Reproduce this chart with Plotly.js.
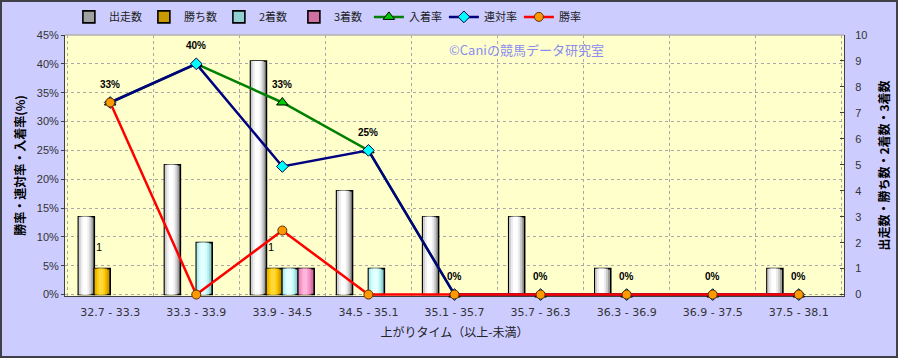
<!DOCTYPE html>
<html><head><meta charset="utf-8">
<script src="https://cdn.plot.ly/plotly-3.0.1.min.js"></script>
<style>
html,body{margin:0;padding:0;background:#CCCCFF;}
#chart{width:898px;height:358px;box-sizing:border-box;border:2px solid #404048;}
</style>
</head><body><div id="chart"></div>
<script>
const categories = ['32.7 - 33.3','33.3 - 33.9','33.9 - 34.5','34.5 - 35.1','35.1 - 35.7','35.7 - 36.3','36.3 - 36.9','36.9 - 37.5','37.5 - 38.1'];
const runners = [3,5,9,4,3,3,1,0,1];
const wins = [1,0,1,0,0,0,0,0,0];
const seconds = [0,2,1,1,0,0,0,0,0];
const thirds = [0,0,1,0,0,0,0,0,0];
const placeRate = [33.3,40,33.3,25,0,0,0,0,0];
const quinellaRate = [33.3,40,22.2,25,0,0,0,0,0];
const winRate = [33.3,0,11.1,0,0,0,0,0,0];
const rateTicks = [0,5,10,15,20,25,30,35,40,45];
const rateTickLabels = ['0%','5%','10%','15%','20%','25%','30%','35%','40%','45%'];
const countTicks = [0,1,2,3,4,5,6,7,8,9,10];

const FONT = 'Liberation Sans, Arial, Noto Sans CJK JP, sans-serif';
const JFONT = 'Noto Sans CJK JP, Liberation Sans, sans-serif';
const BW = 0.185;
const PAD = 0.25; // small space below zero so the zero-valued lines are not clipped

function cylinder(name, vals, base, strips, slot){
  const left = -2*BW + slot*BW;
  const shown = vals.map(v => v === 0 ? null : v);
  const out = [{
    type:'bar', name:name, x:categories, y:shown, yaxis:'y', base:0,
    offset:left, width:BW,
    marker:{color:base, line:{color:'#000000', width:1.6}},
    hoverinfo:'skip', legendgroup:name
  }];
  strips.forEach(s => {
    const w = BW*s.w;
    const c = left + BW*0.42;
    out.push({
      type:'bar', name:name, x:categories, y:shown, yaxis:'y', base:0,
      offset:c - w/2, width:w,
      marker:{color:s.c, line:{width:0}},
      showlegend:false, hoverinfo:'skip', legendgroup:name
    });
  });
  return out;
}

const traces = [].concat(
  cylinder('出走数', runners, '#A0A0A0', [{w:0.8,c:'#D0D0D0'},{w:0.55,c:'#EEEEEE'},{w:0.3,c:'#FFFFFF'}], 0),
  cylinder('勝ち数', wins, '#C89A00', [{w:0.8,c:'#E8B400'},{w:0.55,c:'#FFCC00'},{w:0.3,c:'#FFD840'}], 1),
  cylinder('2着数', seconds, '#90D0D0', [{w:0.8,c:'#B4ECEC'},{w:0.55,c:'#CCFFFF'},{w:0.3,c:'#E6FFFF'}], 2),
  cylinder('3着数', thirds, '#D070A0', [{w:0.8,c:'#EA88BA'},{w:0.55,c:'#FF99CC'},{w:0.3,c:'#FFB8DC'}], 3)
);

traces.push({
  type:'scatter', mode:'lines+markers', name:'入着率', x:categories, y:placeRate, yaxis:'y2',
  line:{color:'#008000', width:2.5},
  marker:{symbol:'triangle-up', size:10, color:'#00CC00', line:{color:'#000000', width:1}},
  cliponaxis:false, hoverinfo:'skip'
});
traces.push({
  type:'scatter', mode:'lines+markers', name:'連対率', x:categories, y:quinellaRate, yaxis:'y2',
  line:{color:'#000080', width:2.5},
  marker:{symbol:'diamond', size:9, color:'#00FFFF', line:{color:'#000040', width:1}},
  cliponaxis:false, hoverinfo:'skip'
});
traces.push({
  type:'scatter', mode:'lines+markers', name:'勝率', x:categories, y:winRate, yaxis:'y2',
  line:{color:'#FF0000', width:2.5},
  marker:{symbol:'circle', size:9, color:'#FF9900', line:{color:'#603000', width:1}},
  cliponaxis:false, hoverinfo:'skip'
});

const annotations = [];
placeRate.forEach((v,i) => {
  annotations.push({
    x:i, xref:'x', y:v, yref:'y2', text:Math.round(v) + '%', showarrow:false,
    yshift:18, font:{family:FONT, size:10, color:'#000', weight:'bold'}
  });
});
wins.forEach((v,i) => {
  if (v) annotations.push({
    x:i, xref:'x', y:v, yref:'y', text:String(v), showarrow:false,
    xshift:-11, yshift:22, font:{family:FONT, size:11, color:'#000'}
  });
});
annotations.push({
  xref:'paper', yref:'paper', x:0.592, y:0.943, yanchor:'middle', text:'©Caniの競馬データ研究室',
  showarrow:false, font:{family:JFONT, size:13, color:'#8C8CF0'}
});

const layout = {
  width:894, height:354,
  margin:{l:63, r:52, t:33, b:60, autoexpand:false},
  paper_bgcolor:'#CCCCFF', plot_bgcolor:'#FFFFCC',
  barmode:'overlay',
  showlegend:true,
  legend:{orientation:'h', x:0.005, xanchor:'left', y:1.125, yanchor:'top',
    font:{family:JFONT, size:11, color:'#222'}, bgcolor:'rgba(0,0,0,0)',
    entrywidth:30, entrywidthmode:'pixels', itemwidth:30, tracegroupgap:0},
  font:{family:FONT, size:11, color:'#333'},
  xaxis:{type:'category', tickson:'boundaries', showgrid:true, gridcolor:'#A8A8A8', griddash:'dot',
    gridwidth:1, ticks:'', showline:true, linecolor:'#404040', linewidth:1,
    layer:'below traces',
    ticklabelstandoff:6,
    tickfont:{family:'DejaVu Sans, sans-serif', size:11, color:'#333'},
    title:{text:'上がりタイム（以上-未満）', font:{family:JFONT, size:12, color:'#222'}, standoff:10},
    fixedrange:true},
  yaxis:{side:'right', range:[-PAD*10/45,10], tickmode:'array', tickvals:countTicks, showgrid:false, zeroline:false,
    showline:true, linecolor:'#404040', linewidth:1, ticks:'inside', ticklen:4, tickcolor:'#404040',
    ticklabelstandoff:8,
    tickfont:{family:FONT, size:11, color:'#333'},
    title:{text:'出走数・勝ち数・2着数・3着数', font:{family:JFONT, size:12, color:'#000', weight:'bold'}, standoff:14},
    fixedrange:true},
  yaxis2:{side:'left', overlaying:'y', range:[-PAD,45], tickmode:'array', tickvals:rateTicks, ticktext:rateTickLabels,
    showgrid:true, gridcolor:'#A8A8A8', griddash:'dot', gridwidth:1, zeroline:false,
    showline:true, linecolor:'#404040', linewidth:1, ticks:'outside', ticklen:3, tickcolor:'#404040',
    tickfont:{family:FONT, size:11, color:'#333'},
    title:{text:'勝率・連対率・入着率(%)', font:{family:JFONT, size:12, color:'#000', weight:'bold'}, standoff:8},
    fixedrange:true},
  shapes:[{type:'line', xref:'paper', yref:'paper', x0:0, x1:1, y0:1, y1:1, line:{color:'#B0B0B0', width:1.5}}],
  annotations:annotations
};

Plotly.newPlot('chart', traces, layout, {displayModeBar:false, staticPlot:true});
</script>
</body></html>
